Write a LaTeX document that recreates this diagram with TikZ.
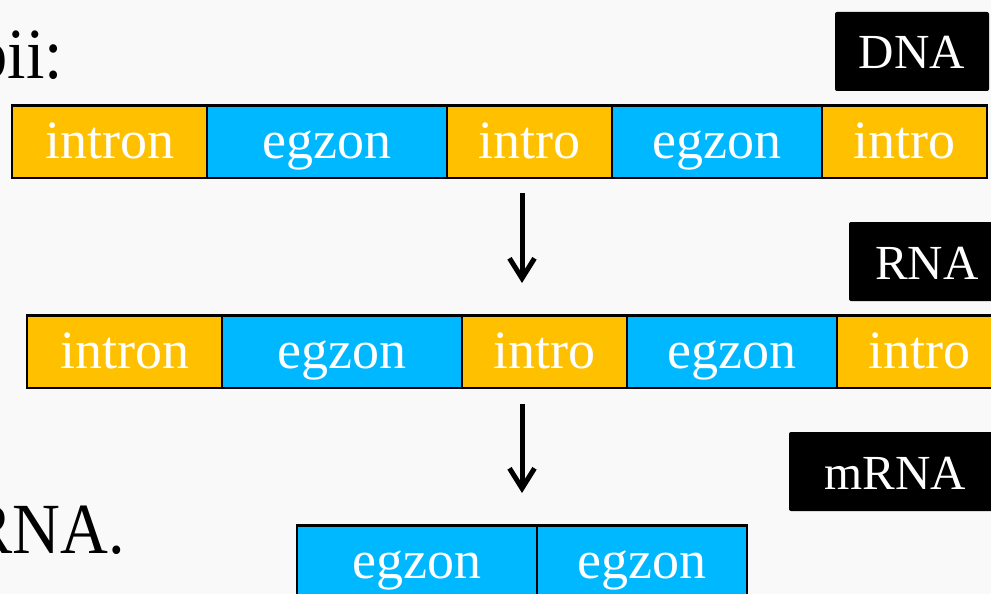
\documentclass[tikz,border=0pt]{standalone}
\usepackage{fontspec}
\setmainfont{Liberation Serif}
\usepackage{graphicx}
\usetikzlibrary{arrows.meta}
\definecolor{exonblue}{HTML}{00B8FF}
\definecolor{intronorange}{HTML}{FFC000}
\definecolor{paper}{HTML}{F9F9F9}
% slightly condensed heading lettering
\newcommand{\condensed}[1]{\scalebox{0.92}[1]{#1}}
\begin{document}
\begin{tikzpicture}[x=1pt,y=-1pt,
  seg/.style={draw=black,line width=2.5pt,minimum height=72.5pt,inner sep=0pt,
    outer sep=0pt,anchor=north west,text=white,text height=40pt,text depth=7pt,
    font=\fontsize{54}{60}\selectfont},
  intron/.style={seg,fill=intronorange},
  exon/.style={seg,fill=exonblue},
  tag/.style={fill=black,rounded corners=2pt,text=white,inner sep=0pt,outer sep=0pt,
    minimum height=79pt,anchor=north west,text height=40pt,text depth=5pt,
    font=\fontsize{49}{56}\selectfont},
  big/.style={inner sep=0pt,anchor=base east,font=\fontsize{72}{80}\selectfont},
  flow/.style={line width=5pt,-{Straight Barb[length=20pt,width=25pt,line width=5pt]}}]

\fill[paper] (0,0) rectangle (991,594);
\clip (0,0) rectangle (991,594);

% surrounding slide text
\node[big] (t1) at (63,79) {\condensed{bii:}};
\node[big] (t2) at (125,553) {\condensed{RNA.}};

% DNA strand
\node[intron,minimum width=195pt] (d1) at (12,105.5) {intron};
\node[exon,minimum width=240pt] (d2) at (d1.north east) {egzon};
\node[intron,minimum width=165pt] (d3) at (d2.north east) {intro};
\node[exon,minimum width=210pt] (d4) at (d3.north east) {egzon};
\node[intron,minimum width=165pt] (d5) at (d4.north east) {intro};

% RNA strand
\node[intron,minimum width=195pt] (r1) at (27,315.5) {intron};
\node[exon,minimum width=240pt] (r2) at (r1.north east) {egzon};
\node[intron,minimum width=165pt] (r3) at (r2.north east) {intro};
\node[exon,minimum width=210pt] (r4) at (r3.north east) {egzon};
\node[intron,minimum width=165pt] (r5) at (r4.north east) {intro};

% mRNA after splicing
\node[exon,minimum width=240pt] (m1) at (297,525.5) {egzon};
\node[exon,minimum width=210pt] (m2) at (m1.north east) {egzon};

% stage labels
\node[tag,minimum width=154pt] (lDNA) at (835,12) {DNA};
\node[tag,minimum width=156pt] (lRNA) at (849,222) {RNA};
\node[tag,minimum width=213pt] (lmRNA) at (789,432) {mRNA};

% processing arrows
\coordinate (a1s) at (522,193);
\coordinate (a1e) at (522,283);
\coordinate (a2s) at (522,404);
\coordinate (a2e) at (522,493);
\draw[flow] (a1s) -- (a1e);
\draw[flow] (a2s) -- (a2e);
\end{tikzpicture}
\end{document}
